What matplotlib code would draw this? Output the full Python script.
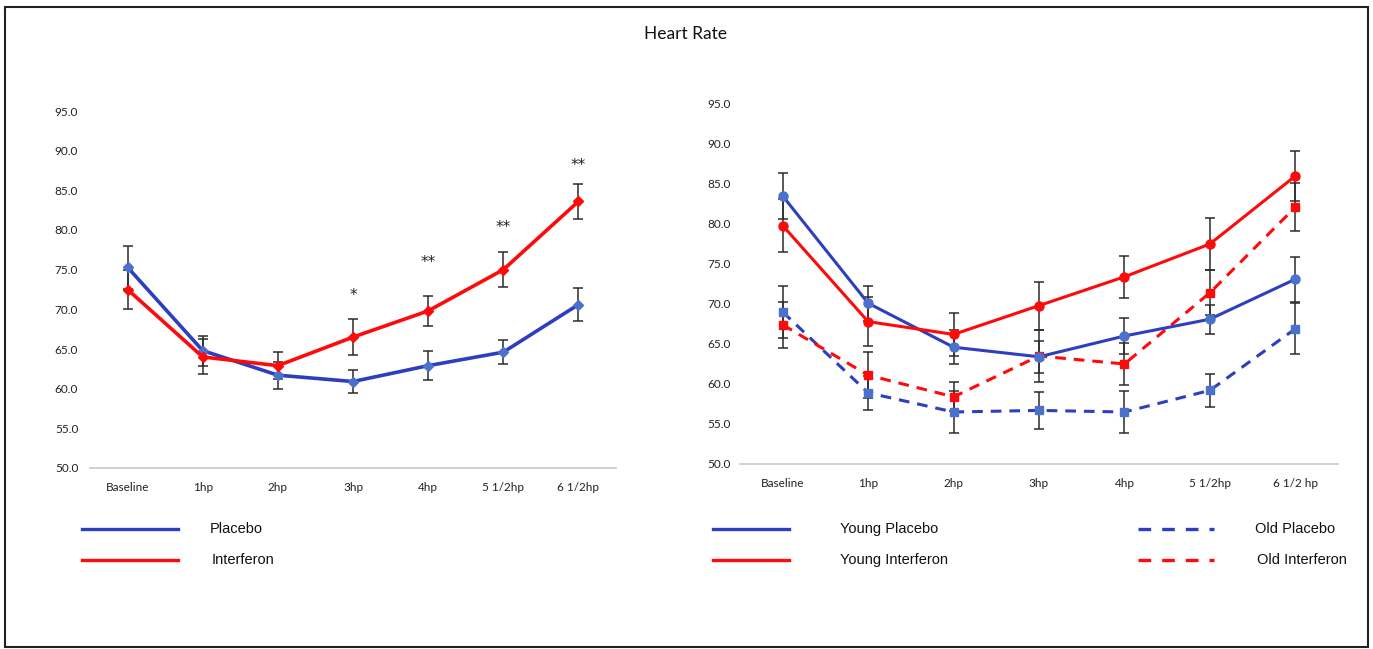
import matplotlib.pyplot as plt
from matplotlib.lines import Line2D
from matplotlib.patches import Rectangle

# categories
timepoints = ["Baseline", "1hp", "2hp", "3hp", "4hp", "5 1/2hp", "6 1/2hp"]
timepoints_r = ["Baseline", "1hp", "2hp", "3hp", "4hp", "5 1/2hp", "6 1/2 hp"]
yticks = [50, 55, 60, 65, 70, 75, 80, 85, 90, 95]

# left panel: all subjects
placebo = [75.3, 64.8, 61.7, 60.9, 62.9, 64.6, 70.6]
placebo_err = [2.7, 1.9, 1.7, 1.5, 1.8, 1.5, 2.1]
interferon = [72.5, 64.0, 62.9, 66.5, 69.8, 75.0, 83.6]
interferon_err = [2.5, 2.2, 1.7, 2.3, 1.9, 2.2, 2.2]
stars = ["", "", "", "*", "**", "**", "**"]
star_y = [0, 0, 0, 71.7, 75.9, 80.3, 88.1]

# right panel: young vs old
young_placebo = [83.5, 70.1, 64.6, 63.4, 66.0, 68.1, 73.1]
young_placebo_err = [2.9, 2.2, 2.1, 2.0, 2.2, 1.8, 2.8]
young_interferon = [79.8, 67.8, 66.2, 69.8, 73.4, 77.5, 86.0]
young_interferon_err = [3.3, 3.1, 2.7, 3.0, 2.6, 3.2, 3.1]
old_placebo = [69.0, 58.9, 56.5, 56.7, 56.5, 59.2, 66.9]
old_placebo_err = [3.2, 2.1, 2.6, 2.3, 2.6, 2.1, 3.2]
old_interferon = [67.4, 61.1, 58.4, 63.5, 62.5, 71.4, 82.1]
old_interferon_err = [2.9, 2.9, 1.8, 3.3, 2.6, 2.8, 3.0]

BLUE = "#2D3FBF"
BLUE_FILL = "#4A72CC"
RED = "#FF0A0A"
ERR = "#2B2B2B"

plt.rcParams['font.family'] = ['Lato', 'DejaVu Sans']

fig = plt.figure(figsize=(13.73, 6.49), dpi=100)

# outer frame
fig.add_artist(Rectangle((5 / 1373, 2 / 649), 1363 / 1373, 640 / 649,
                         transform=fig.transFigure, fill=False,
                         edgecolor="#222222", linewidth=1.5))

fig.text(686 / 1373, 1 - 34 / 649, "Heart Rate", ha="center", va="center",
         fontsize=12.5, color="#111111")


def style_axes(ax, labels, ypad):
    x = range(len(labels))
    ax.set_xlim(-0.5, len(labels) - 0.5)
    ax.set_ylim(50, 95)
    ax.set_yticks(yticks)
    ax.set_yticklabels([f"{v:.1f}" for v in yticks], fontsize=8.5, color="#222222")
    ax.set_xticks(list(x))
    ax.set_xticklabels(labels, fontsize=8.5, color="#222222")
    for s in ["top", "right", "left"]:
        ax.spines[s].set_visible(False)
    ax.spines["bottom"].set_color("#C8C8C8")
    ax.spines["bottom"].set_linewidth(1.2)
    ax.tick_params(length=0)
    ax.tick_params(axis="y", pad=ypad)
    ax.tick_params(axis="x", pad=10)


def series(ax, vals, errs, color, fill, marker, ms, ls="-", lw=2.2):
    x = range(len(vals))
    ax.errorbar(x, vals, yerr=errs, fmt="none", ecolor=ERR, elinewidth=1.1,
                capsize=3.5, capthick=1.1, zorder=2)
    line, = ax.plot(x, vals, color=color, lw=lw, ls=ls, marker=marker, ms=ms,
                    markerfacecolor=fill, markeredgecolor=fill, zorder=3)
    if ls == "--":
        line.set_dashes((3.5, 2.6))
    return line


# left panel
ax1 = fig.add_axes([90 / 1373, 1 - 468 / 649, 526 / 1373, 357 / 649])
style_axes(ax1, timepoints, 8.5)
series(ax1, placebo, placebo_err, BLUE, BLUE_FILL, "D", 5, lw=2.6)
series(ax1, interferon, interferon_err, RED, RED, "D", 5, lw=2.6)
for i, s in enumerate(stars):
    if s:
        ax1.text(i, star_y[i], s, ha="center", va="center", fontsize=11,
                 family=["DejaVu Sans"], color="#222222")

# right panel
ax2 = fig.add_axes([740 / 1373, 1 - 464 / 649, 598 / 1373, 360 / 649])
style_axes(ax2, timepoints_r, 7)
series(ax2, old_placebo, old_placebo_err, BLUE, BLUE_FILL, "s", 6, ls="--")
series(ax2, old_interferon, old_interferon_err, RED, RED, "s", 6, ls="--")
series(ax2, young_placebo, young_placebo_err, BLUE, BLUE_FILL, "o", 6.5)
series(ax2, young_interferon, young_interferon_err, RED, RED, "o", 6.5)


# legends drawn in figure coordinates
def fig_line(x0, x1, y, color, ls="-"):
    ln = Line2D([x0 / 1373, x1 / 1373], [1 - y / 649, 1 - y / 649],
                transform=fig.transFigure, color=color, lw=2.4, ls=ls)
    if ls == "--":
        ln.set_dashes((3.8, 3.3))
    fig.add_artist(ln)


def fig_label(x, y, s):
    fig.text(x / 1373, 1 - y / 649, s, ha="left", va="center", fontsize=10.5,
             family=["Liberation Sans", "DejaVu Sans"], color="#111111")


fig_line(82, 178, 529, BLUE)
fig_line(82, 178, 560, RED)
fig_label(210, 529, "Placebo")
fig_label(212, 560, "Interferon")

fig_line(713, 789, 529, BLUE)
fig_line(713, 789, 560, RED)
fig_label(840, 529, "Young Placebo")
fig_label(840, 560, "Young Interferon")

fig_line(1138, 1214, 529, BLUE, "--")
fig_line(1138, 1214, 560, RED, "--")
fig_label(1255, 529, "Old Placebo")
fig_label(1257, 560, "Old Interferon")

fig.savefig("out.png", dpi=100)
